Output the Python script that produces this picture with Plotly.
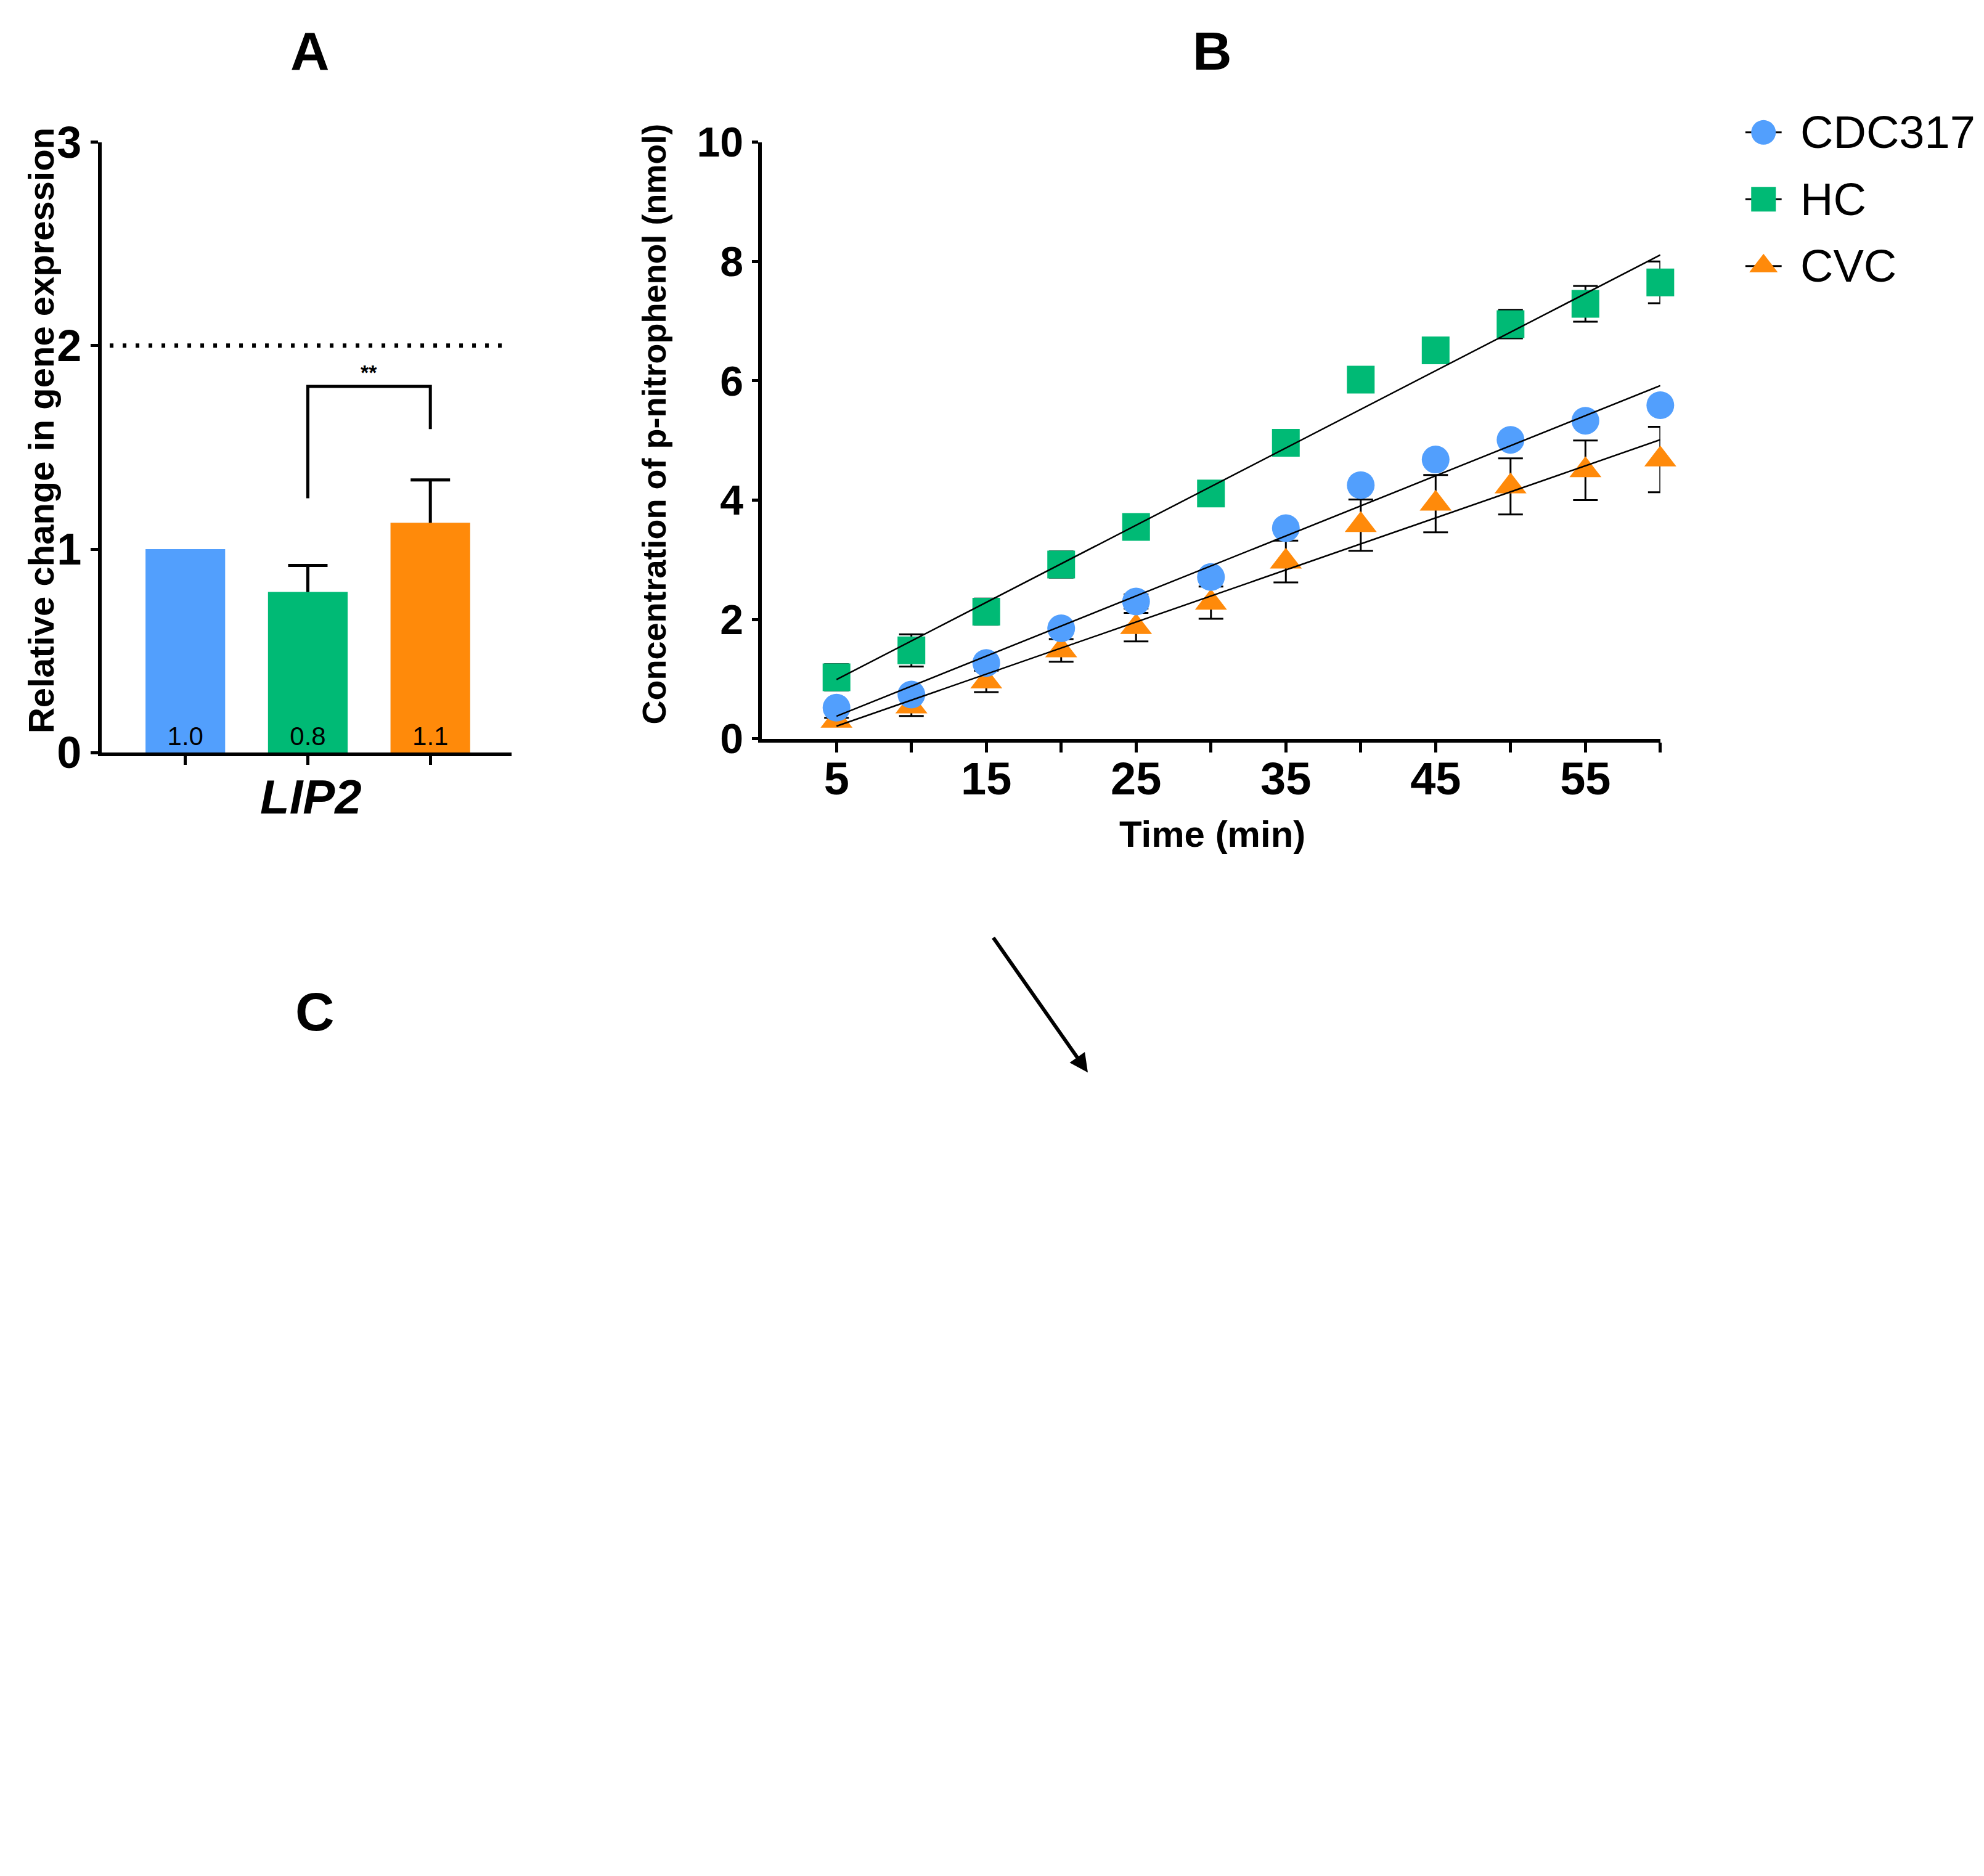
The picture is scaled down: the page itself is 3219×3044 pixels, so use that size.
import numpy as np
import plotly.graph_objects as go

# strains and styles shared by both panels
strains = ["CDC317", "HC", "CVC"]
colors = ["#529FFD", "#00BA75", "#FF8A0A"]
symbols = ["circle", "square", "triangle-up"]

# Panel A: relative LIP2 expression
lip2_expr = [1.0, 0.79, 1.13]
lip2_err = [None, 0.13, 0.21]
threshold = 2
sig_pair = [1, 2]
sig_heights = [1.25, 1.80, 1.59]  # left foot, top, right foot
sig_label = "**"

# Panel B: p-nitrophenol over time
time_min = [5, 10, 15, 20, 25, 30, 35, 40, 45, 50, 55, 60]
pnp_cdc = [0.52, 0.74, 1.27, 1.85, 2.30, 2.71, 3.53, 4.25, 4.68, 5.01, 5.33, 5.59]
err_cdc = [0.06, 0.08, 0.08, 0.08, 0.12, 0.08, 0.08, 0.08, 0.08, 0.08, 0.08, 0.08]
pnp_hc = [1.03, 1.48, 2.13, 2.92, 3.55, 4.11, 4.96, 6.02, 6.51, 6.95, 7.29, 7.65]
err_hc = [0.22, 0.27, 0.22, 0.22, 0.10, 0.10, 0.10, 0.10, 0.10, 0.24, 0.30, 0.35]
pnp_cvc = [0.30, 0.54, 0.96, 1.48, 1.87, 2.28, 2.97, 3.58, 3.94, 4.23, 4.50, 4.68]
err_cvc = [0.05, 0.16, 0.18, 0.19, 0.24, 0.27, 0.35, 0.43, 0.48, 0.47, 0.50, 0.55]

FONT = "Liberation Sans, Arial, sans-serif"
W, H = 3219, 3044
S = W / 1563  # layout was measured on a 1563 px wide copy of the figure


def px(xd):
    # page has an 8px body margin, so pull everything back by it
    return (xd * S - 8) / W


def py(yd):
    return 1 - (yd * S - 8) / H


fig = go.Figure()

# --- A: bars. An invisible copy (only bars that have an error) carries the error
# bars, so the real bars drawn afterwards hide the lower half of each bar.
xa = list(range(len(strains)))
has_err = [i for i in xa if lip2_err[i] is not None]
fig.add_trace(go.Bar(
    x=has_err, y=[lip2_expr[i] for i in has_err], width=0.65, marker_color="rgba(0,0,0,0)",
    error_y=dict(type="data", array=[lip2_err[i] for i in has_err],
                 color="black", thickness=5, width=32),
    xaxis="x", yaxis="y", showlegend=False, hoverinfo="skip",
))
fig.add_trace(go.Bar(
    x=xa, y=lip2_expr, width=0.65, marker_color=colors, marker_line_width=0,
    texttemplate="%{y:.1f}", textposition="inside", insidetextanchor="start",
    textfont=dict(family=FONT, size=42, color="black"), textangle=0,
    xaxis="x", yaxis="y", showlegend=False, name="LIP2",
))

# --- B: points with error bars, then fitted lines on top
series = [(pnp_cvc, err_cvc, 2), (pnp_cdc, err_cdc, 0), (pnp_hc, err_hc, 1)]
for vals, errs, i in series:
    fig.add_trace(go.Scatter(
        x=time_min, y=vals, mode="markers", name=strains[i],
        marker=dict(symbol=symbols[i], color=colors[i], size=45, line_width=0),
        error_y=dict(type="data", array=errs, color="black", thickness=3, width=20),
        xaxis="x2", yaxis="y2", showlegend=False, cliponaxis=False,
    ))
for vals, errs, i in series:
    slope, icpt = np.polyfit(time_min, vals, 1)
    xs = np.array([time_min[0], time_min[-1]])
    fig.add_trace(go.Scatter(
        x=xs, y=slope * xs + icpt, mode="lines",
        line=dict(color="black", width=2.5),
        xaxis="x2", yaxis="y2", showlegend=False, hoverinfo="skip",
    ))

# --- legend drawn on its own hidden axes (plotly caps legend marker size)
rows = list(range(len(strains)))
fig.add_trace(go.Scatter(
    x=[0.1] * len(rows), y=rows, mode="markers",
    marker=dict(symbol="line-ew", size=42, line=dict(color="black", width=3)),
    xaxis="x3", yaxis="y3", showlegend=False, hoverinfo="skip",
))
for i in rows:
    fig.add_trace(go.Scatter(
        x=[0.1], y=[i], mode="markers",
        marker=dict(symbol=symbols[i], color=colors[i], size=40, line_width=0),
        xaxis="x3", yaxis="y3", showlegend=False, hoverinfo="skip",
    ))

axis_common = dict(showline=True, linecolor="black", linewidth=6, showgrid=False,
                   zeroline=False, ticks="outside", tickcolor="black", tickwidth=5,
                   automargin=False)


def label(text, x, y, size, xref="paper", yref="paper", **kw):
    d = dict(text=text, x=x, y=y, xref=xref, yref=yref, showarrow=False,
             xanchor="center", yanchor="middle",
             font=dict(family=FONT, size=size, color="black"))
    d.update(kw)
    return d


annotations = [
    label("<b>A</b>", px(244), py(40), 88),
    label("<b>B</b>", px(955), py(40), 88),
    label("<b>C</b>", px(248), py(797), 88),
    label("<b>Relative change in gene expression</b>", px(32), py(339), 58, textangle=-90),
    label("<b><i>LIP2</i></b>", px(245), py(628), 78),
    label("<b>Concentration of p-nitrophenol (nmol)</b>", px(515), py(334), 54, textangle=-90),
    label("<b>Time (min)</b>", px(955), py(657), 60),
    label("<b>" + sig_label + "</b>", sum(sig_pair) / 2, sig_heights[1], 34,
          xref="x", yref="y", yanchor="bottom", yshift=2),
    # arrow pointing at the active site in panel C
    dict(text="", x=px(857), y=py(845), xref="paper", yref="paper", showarrow=True,
         ax=-75 * S, ay=-107 * S, arrowhead=2, arrowsize=1, arrowwidth=6, arrowcolor="black"),
]
for i in rows:
    annotations.append(label(strains[i], 0.245, i, 74, xref="x3", yref="y3", xanchor="left"))

shapes = [
    dict(type="line", xref="x domain", yref="y", x0=0.02, x1=0.99, y0=threshold, y1=threshold,
         line=dict(color="black", width=7, dash="6px,15px")),
    dict(type="path", xref="x", yref="y",
         path="M {a},{h0} L {a},{h1} L {b},{h1} L {b},{h2}".format(
             a=sig_pair[0], b=sig_pair[1], h0=sig_heights[0], h1=sig_heights[1], h2=sig_heights[2]),
         line=dict(color="black", width=5)),
]

fig.update_layout(
    width=W, height=H, margin=dict(l=0, r=0, t=0, b=0, autoexpand=False),
    paper_bgcolor="white", plot_bgcolor="white",
    barmode="overlay", showlegend=False,
    font=dict(family=FONT, color="black"),
    xaxis=dict(domain=[px(80), px(403)], range=[-0.684, 2.663], tickvals=xa,
               ticktext=[""] * len(xa), ticklen=14, anchor="y", **axis_common),
    yaxis=dict(domain=[py(593), py(112)], range=[0, 3], tickvals=[0, 1, 2, 3], ticklen=12,
               tickfont=dict(family=FONT, size=72, weight="bold"), anchor="x", **axis_common),
    xaxis2=dict(domain=[px(600), px(1308)], range=[0, 60], tickvals=time_min,
                ticktext=[str(t) if t % 10 == 5 else "" for t in time_min], ticklen=16,
                ticklabelstandoff=-20,
                tickfont=dict(family=FONT, size=74, weight="bold"), anchor="y2", **axis_common),
    yaxis2=dict(domain=[py(582), py(112)], range=[0, 10], tickvals=[0, 2, 4, 6, 8, 10], ticklen=10,
                tickfont=dict(family=FONT, size=68, weight="bold"), anchor="x2", **axis_common),
    xaxis3=dict(domain=[px(1370), px(1563)], range=[0, 1], visible=False, anchor="y3"),
    yaxis3=dict(domain=[py(236), py(78)], range=[2.5, -0.5], visible=False, anchor="x3"),
    annotations=annotations,
    shapes=shapes,
)

fig.write_html("out.html")
